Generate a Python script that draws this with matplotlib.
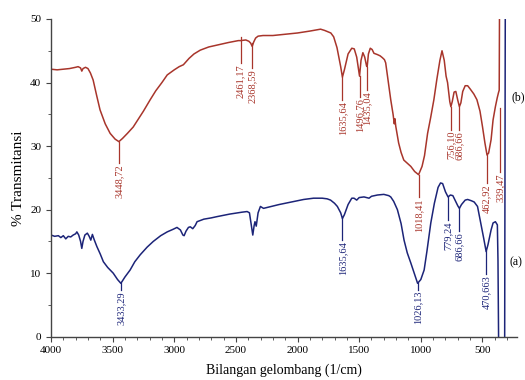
import numpy as np
import matplotlib
matplotlib.use("Agg")
import matplotlib.pyplot as plt
from matplotlib.ticker import MultipleLocator

plt.rcParams['font.family'] = ['Liberation Serif', 'DejaVu Serif']

# spectrum (b) - upper, red
wn_b = [4000, 3950, 3900, 3850, 3800, 3780, 3760, 3750, 3740, 3720, 3700, 3680, 3658,
        3630, 3602, 3560, 3520, 3480, 3449, 3420, 3380, 3333, 3290, 3250, 3195, 3150,
        3100, 3057, 3000, 2960, 2926, 2880, 2840, 2789, 2720, 2651, 2560, 2480, 2461,
        2420, 2395, 2380, 2368, 2355, 2340, 2320, 2280, 2200, 2100, 2000, 1900, 1813,
        1780, 1756, 1730, 1707, 1680, 1650, 1636, 1620, 1590, 1560, 1540, 1520, 1505,
        1497, 1485, 1470, 1455, 1440, 1435, 1425, 1410, 1395, 1380, 1352, 1330, 1311,
        1295, 1285, 1270, 1244, 1225, 1215, 1210, 1203, 1180, 1160, 1138, 1110, 1081,
        1050, 1018, 990, 970, 945, 920, 894, 870, 845, 828, 810, 795, 783, 765, 756,
        745, 730, 716, 700, 687, 675, 660, 640, 620, 600, 570, 545, 520, 500, 480, 463,
        450, 430, 414, 395, 380, 370, 364, 360, 356]
t_b = [42.1, 42.0, 42.1, 42.2, 42.4, 42.5, 42.3, 41.8, 42.2, 42.4, 42.2, 41.5, 40.4,
       38.0, 35.7, 33.5, 32.0, 31.1, 30.7, 31.2, 32.0, 33.0, 34.3, 35.5, 37.3, 38.7,
       40.0, 41.2, 42.0, 42.5, 42.8, 43.8, 44.5, 45.1, 45.6, 45.9, 46.3, 46.6, 46.6,
       46.7, 46.5, 46.2, 45.7, 46.4, 47.0, 47.3, 47.4, 47.4, 47.6, 47.8, 48.1, 48.4,
       48.2, 48.0, 47.8, 47.2, 45.5, 42.5, 40.85, 42.0, 44.5, 45.4, 45.3, 44.0, 42.0,
       41.0, 43.5, 44.7, 44.0, 42.6, 42.5, 44.5, 45.4, 45.2, 44.6, 44.4, 44.2, 43.9,
       43.6, 43.1, 41.0, 37.3, 35.0, 33.5, 34.3, 33.1, 30.5, 29.0, 27.8, 27.3, 26.8,
       26.0, 25.5, 26.8, 28.5, 32.0, 34.5, 37.3, 40.5, 43.5, 45.0, 43.5, 41.0, 40.0,
       37.0, 36.2, 37.0, 38.5, 38.6, 37.2, 36.2, 36.8, 38.6, 39.5, 39.5, 39.0, 38.2,
       37.3, 35.5, 33.1, 30.5, 28.6, 28.9, 31.0, 34.1, 36.2, 37.6, 38.4, 38.8, 60.0, 60.0]

# spectrum (a) - lower, blue
wn_a = [4000, 3970, 3940, 3920, 3900, 3880, 3860, 3840, 3820, 3800, 3790, 3775, 3760,
        3750, 3740, 3725, 3705, 3690, 3677, 3664, 3650, 3640, 3628, 3600, 3575, 3540,
        3495, 3460, 3433, 3400, 3358, 3320, 3276, 3220, 3170, 3110, 3057, 3010, 2978,
        2950, 2930, 2920, 2905, 2885, 2870, 2850, 2830, 2815, 2760, 2700, 2653, 2550,
        2450, 2409, 2390, 2375, 2363, 2352, 2345, 2335, 2320, 2301, 2276, 2150, 2050,
        1950, 1870, 1800, 1760, 1732, 1700, 1677, 1650, 1636, 1620, 1590, 1560, 1542,
        1520, 1500, 1461, 1420, 1400, 1352, 1300, 1260, 1244, 1220, 1190, 1160, 1136,
        1110, 1081, 1050, 1026, 1000, 973, 950, 919, 890, 860, 840, 823, 800, 779, 760,
        740, 720, 700, 687, 670, 640, 620, 590, 567, 540, 508, 490, 470, 455, 430, 414,
        395, 385, 379, 374, 368, 320, 314, 310]
t_a = [16.0, 15.8, 15.9, 15.6, 15.9, 15.4, 15.8, 15.7, 16.0, 16.2, 16.5, 16.0, 15.0,
       13.9, 15.0, 16.0, 16.3, 15.8, 15.2, 16.1, 15.3, 14.8, 14.2, 13.0, 11.8, 10.9,
       10.0, 9.0, 8.4, 9.4, 10.5, 11.8, 12.9, 14.1, 15.0, 15.9, 16.5, 16.9, 17.2,
       16.8, 16.0, 15.9, 16.6, 17.2, 17.3, 17.0, 17.5, 18.1, 18.5, 18.7, 18.9, 19.3,
       19.6, 19.7, 19.5, 17.5, 16.0, 17.5, 18.1, 17.4, 19.5, 20.5, 20.2, 20.8, 21.2,
       21.6, 21.8, 21.8, 21.7, 21.5, 21.0, 20.5, 19.5, 18.6, 19.2, 20.8, 21.8, 21.8,
       21.5, 21.9, 22.0, 21.8, 22.1, 22.3, 22.4, 22.2, 22.0, 21.3, 20.0, 17.8, 15.2,
       13.2, 11.6, 9.8, 8.4, 9.0, 10.5, 13.5, 17.9, 21.0, 23.5, 24.2, 24.1, 22.8, 22.0,
       22.3, 22.2, 21.4, 20.6, 20.2, 20.8, 21.5, 21.6, 21.4, 21.2, 20.5, 17.3, 15.5,
       13.4, 14.5, 16.8, 17.9, 18.1, 17.8, 17.6, 12.0, -3.0, -3.0, 60.0, 60.0]

# peak labels
peaks_b = [3448.72, 2461.17, 2368.59, 1635.64, 1496.76, 1435.04, 1018.41, 756.10, 686.66,
           462.92, 339.47]
text_b = ["3448,72", "2461,17", "2368,59", "1635,64", "1496,76", "1435,04", "1018,41",
          "756,10", "686,66", "462,92", "339,47"]
peaks_a = [3433.29, 1635.64, 1026.13, 779.24, 686.66, 470.663]
text_a = ["3433,29", "1635,64", "1026,13", "779,24", "686,66", "470,663"]

# where each label is drawn: x of the leader, and %T where the text starts
lab_x_b = [3448.72, 2461.17, 2368.59, 1635.64, 1496.76, 1435.04, 1018.41, 756.10,
           686.66, 462.92, 358]
lab_top_b = [30.7, 47.1, 46.3, 40.8, 41.0, 42.5, 25.5, 36.2, 36.2, 28.6, 36.0]
lab_y_b = [27.3, 43.1, 42.3, 37.3, 37.7, 38.8, 22.0, 32.6, 32.6, 24.2, 25.9]
lab_y_a = [7.4, 15.2, 7.4, 18.4, 16.6, 9.9]

red = "#a8352b"
blue = "#1c2478"

fig = plt.figure(figsize=(5.25, 3.8), dpi=100)
ax = fig.add_axes([0.0971, 0.1139, 0.8876, 0.8361])

ax.plot(wn_b, t_b, color=red, lw=1.1)
ax.plot(wn_a, t_a, color=blue, lw=1.1)

# labels for (b)
for x, s, top, y in zip(lab_x_b, text_b, lab_top_b, lab_y_b):
    ax.plot([x, x], [top, y], color=red, lw=0.9)
    ax.text(x, y - 0.2, s, rotation=90, ha="center", va="top", fontsize=7.5, color=red)

# labels for (a), leaders start on the curve
wn_r = np.array(wn_a)[::-1]
t_r = np.array(t_a)[::-1]
for x, s, y in zip(peaks_a, text_a, lab_y_a):
    ax.plot([x, x], [np.interp(x, wn_r, t_r), y], color=blue, lw=0.9)
    ax.text(x, y - 0.2, s, rotation=90, ha="center", va="top", fontsize=7.5, color=blue)

ax.text(263, 37.7, "(b)", fontsize=8.5, ha="left", va="center", clip_on=False)
ax.text(282, 11.7, "(a)", fontsize=8.5, ha="left", va="center", clip_on=False)

ax.set_xlim(4000, 220)
ax.set_ylim(0, 50)
ax.xaxis.set_minor_locator(MultipleLocator(100))
ax.yaxis.set_major_locator(MultipleLocator(10))
ax.yaxis.set_minor_locator(MultipleLocator(5))
ax.set_xticks([4000, 3500, 3000, 2500, 2000, 1500, 1000, 500])

for side in ["top", "right"]:
    ax.spines[side].set_visible(False)
for side in ["left", "bottom"]:
    ax.spines[side].set_color("#444444")
    ax.spines[side].set_linewidth(1.0)
ax.tick_params(which="both", direction="out", colors="#444444", labelcolor="black",
               labelsize=8)
ax.tick_params(which="major", length=3.5)
ax.tick_params(which="minor", length=2)

ax.set_xlabel("Bilangan gelombang (1/cm)", fontsize=10, labelpad=6)
ax.set_ylabel("% Transmitansi", fontsize=11, labelpad=4)

fig.savefig("out.png", dpi=100)
